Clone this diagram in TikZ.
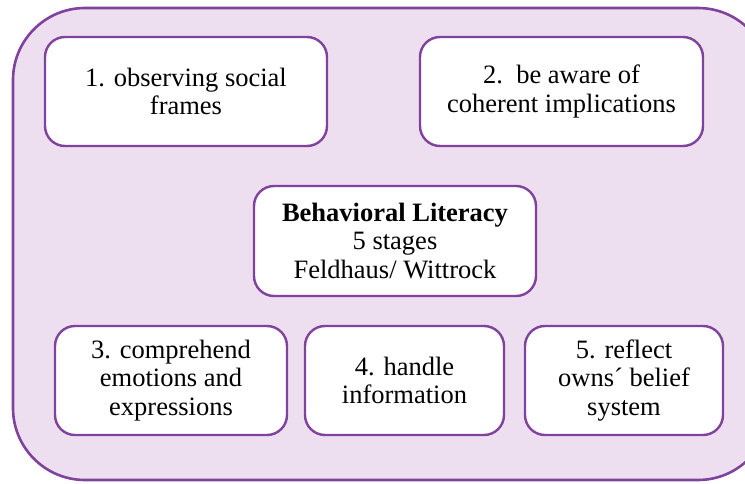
\documentclass[tikz,border=0pt]{standalone}
\usepackage{fontspec}
\setmainfont{Liberation Serif}
\definecolor{pstroke}{RGB}{128,66,156}
\definecolor{pfill}{RGB}{237,223,240}
\begin{document}
\begin{tikzpicture}[x=1pt,y=-1pt,
  stage/.style={draw=pstroke,line width=2.4pt,fill=white,rounded corners=20pt,
    align=center,font=\fontsize{26.5}{28.5}\selectfont,inner sep=0pt}]
\useasboundingbox (0,0) rectangle (745,484);
\clip (0,0) rectangle (745,484);
\draw[pstroke,line width=2.6pt,fill=pfill,rounded corners=72pt] (13,8) rectangle (770,480);
\node[stage,minimum width=282pt,minimum height=109pt] (s1) at (186,91.5) {1. observing social\\frames};
\node[stage,minimum width=283pt,minimum height=109pt] (s2) at (561.5,91.5) {2.\ \ be aware of\\coherent implications};
\node[stage,minimum width=282pt,minimum height=110pt] (c) at (395,241) {\textbf{Behavioral Literacy}\\5 stages\\Feldhaus/ Wittrock};
\node[stage,minimum width=232pt,minimum height=109pt] (s3) at (171,380.5) {3. comprehend\\emotions and\\expressions};
\node[stage,minimum width=199pt,minimum height=109pt] (s4) at (404.5,380.5) {4. handle\\information};
\node[stage,minimum width=198pt,minimum height=109pt] (s5) at (624,380.5) {5. reflect\\owns´ belief\\system};
\end{tikzpicture}
\end{document}
